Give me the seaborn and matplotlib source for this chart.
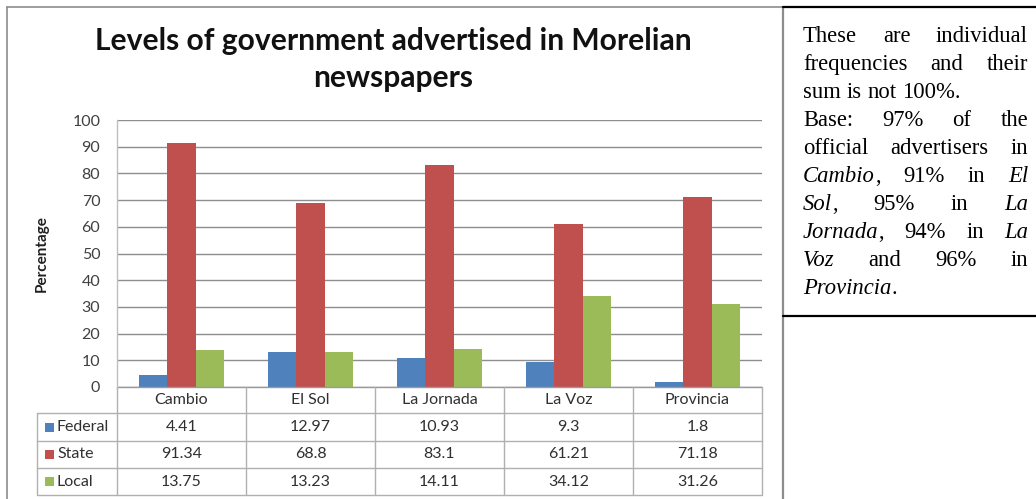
import matplotlib
matplotlib.use("Agg")
import matplotlib.pyplot as plt
import matplotlib.transforms as mtransforms
from matplotlib.patches import Rectangle
import seaborn as sns
import pandas as pd

# ---------------- data ----------------
newspapers = ["Cambio", "El Sol", "La Jornada", "La Voz", "Provincia"]
levels = ["Federal", "State", "Local"]
federal = [4.41, 12.97, 10.93, 9.3, 1.8]
state = [91.34, 68.8, 83.1, 61.21, 71.18]
local = [13.75, 13.23, 14.11, 34.12, 31.26]
yticks = [0, 10, 20, 30, 40, 50, 60, 70, 80, 90, 100]
title_lines = ["Levels of government advertised in Morelian", "newspapers"]
ylabel = "Percentage"
note_lines = [
    ("These are individual", True),
    ("frequencies and their", True),
    ("sum is not 100%.", False),
    ("Base: 97% of the", True),
    ("official advertisers in", True),
    ("*Cambio*, 91% in *El*", True),
    ("*Sol*, 95% in *La*", True),
    ("*Jornada*, 94% in *La*", True),
    ("*Voz* and 96% in", True),
    ("*Provincia*.", False),
]
colors = ["#4F81BD", "#C0504D", "#9BBB59"]

series = {"Federal": federal, "State": state, "Local": local}
df = pd.DataFrame(series, index=newspapers).reset_index(names="Newspaper")
df = df.melt(id_vars="Newspaper", var_name="Level", value_name="Percentage")

# ---------------- style ----------------
sns.set_style("white")
plt.rcParams["font.family"] = ["Lato", "DejaVu Sans"]

W, H = 1036, 499
fig = plt.figure(figsize=(W / 100, H / 100), dpi=100)


def fx(x):
    return x / W


def fy(y):
    return 1 - y / H


ax_l, ax_r, ax_t, ax_b = 117, 762, 120, 387
ax = fig.add_axes([fx(ax_l), fy(ax_b), fx(ax_r) - fx(ax_l), fy(ax_t) - fy(ax_b)])

sns.barplot(data=df, x="Newspaper", y="Percentage", hue="Level",
            hue_order=levels, order=newspapers, palette=colors,
            width=0.66, saturation=1, ax=ax, legend=False, linewidth=0)

ax.set_xlim(-0.5, len(newspapers) - 0.5)
ax.set_ylim(0, 100)
ax.set_yticks(yticks)
ax.set_xticks([])
ax.set_xlabel("")
ax.set_ylabel("")
ax.yaxis.grid(True, color="#8E8E8E", lw=1)
ax.set_axisbelow(True)
for s in ["top", "right", "bottom"]:
    ax.spines[s].set_visible(False)
ax.spines["left"].set_color("#BFBFBF")
ax.spines["left"].set_linewidth(1)
ax.tick_params(axis="y", length=0, pad=12, labelsize=11.5, labelcolor="#404040")

fig.text(fx(42), fy(254), ylabel, rotation=90, ha="center", va="center",
         fontsize=11, fontweight="bold", color="#202020")
for tl, yb in zip(title_lines, [50, 87]):
    fig.text(fx(393), fy(yb), tl, ha="center", va="baseline", fontsize=21.6,
             fontweight="bold", color="#111111")

# ---------------- data table ----------------
blend = mtransforms.blended_transform_factory(ax.transData, fig.transFigure)
line_c = "#B0B0B0"
rows_y = [387, 413, 441, 468, 495]
left_x = 37
n = len(newspapers)
for i, y in enumerate(rows_y):
    ax.plot([-0.5, n - 0.5], [fy(y), fy(y)], transform=blend,
            color=line_c if i else "#9A9A9A", lw=1, clip_on=False)
    if i >= 1:
        fig.add_artist(plt.Line2D([fx(left_x), fx(ax_l)], [fy(y), fy(y)], color=line_c, lw=1))
for k in range(n + 1):
    ax.plot([k - 0.5, k - 0.5], [fy(rows_y[0]), fy(rows_y[-1])], transform=blend,
            color=line_c, lw=1, clip_on=False)
fig.add_artist(plt.Line2D([fx(left_x), fx(left_x)], [fy(rows_y[1]), fy(rows_y[-1])],
                          color=line_c, lw=1))
for k, name in enumerate(newspapers):
    ax.text(k, fy((rows_y[0] + rows_y[1]) / 2), name, transform=blend, ha="center",
            va="center", fontsize=11.5, color="#303030")
for r, (lev, col) in enumerate(zip(levels, colors)):
    yc = (rows_y[r + 1] + rows_y[r + 2]) / 2
    fig.add_artist(Rectangle((fx(45), fy(yc + 4.5)), fx(9), fy(0) - fy(9),
                             facecolor=col, edgecolor="none"))
    fig.text(fx(57), fy(yc), lev, ha="left", va="center", fontsize=11.5, color="#303030")
    for k, v in enumerate(series[lev]):
        ax.text(k, fy(yc), f"{v:g}", transform=blend, ha="center", va="center",
                fontsize=11.5, color="#303030")

# ---------------- frames ----------------
frame_c = "#8C8C8C"
fig.add_artist(plt.Line2D([fx(7), fx(7)], [fy(7), fy(H)], color=frame_c, lw=1.2))
fig.add_artist(plt.Line2D([fx(7), fx(783)], [fy(7), fy(7)], color=frame_c, lw=1.2))
fig.add_artist(plt.Line2D([fx(783), fx(783)], [fy(7), fy(H)], color=frame_c, lw=1.6))
fig.add_artist(plt.Line2D([fx(783), fx(W)], [fy(7), fy(7)], color="black", lw=1.6))
fig.add_artist(plt.Line2D([fx(783), fx(W)], [fy(316), fy(316)], color="black", lw=1.6))

# ---------------- justified note ----------------
renderer = fig.canvas.get_renderer()
note_font = dict(fontsize=16.3, family=["Liberation Serif", "DejaVu Serif"], color="black")
tx_l, tx_r = 803, 1028
base0, step = 41.5, 28.1


def word_parts(word):
    parts = word.split("*")
    return [(p, "italic" if i % 2 else "normal") for i, p in enumerate(parts) if p]


def measure(text, style):
    t = fig.text(0, 0, text, style=style, **note_font)
    w = t.get_window_extent(renderer).width
    t.remove()
    return w


space_w = measure("a b", "normal") - measure("ab", "normal")
for li, (line, justify) in enumerate(note_lines):
    words = [word_parts(w) for w in line.split()]
    widths = [[measure(p, s) for p, s in wp] for wp in words]
    totals = [sum(ws) for ws in widths]
    if justify and len(words) > 1:
        gap = (tx_r - tx_l - sum(totals)) / (len(words) - 1)
    else:
        gap = space_w
    x = tx_l
    yb = base0 + li * step
    for wp, ws in zip(words, widths):
        xx = x
        for (p, s), w in zip(wp, ws):
            fig.text(fx(xx), fy(yb), p, style=s, ha="left", va="baseline", **note_font)
            xx += w
        x += sum(ws) + gap

fig.savefig("out.png", dpi=100)
